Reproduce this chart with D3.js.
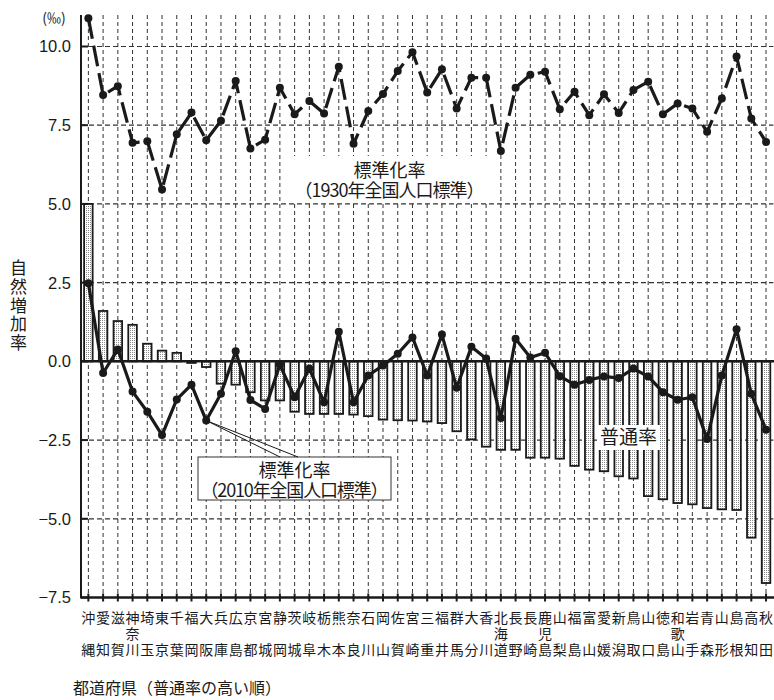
<!DOCTYPE html>
<html>
<head>
<meta charset="utf-8">
<script src="https://cdn.jsdelivr.net/npm/d3@7"></script>
<style>
  body { margin: 0; background: #fff; }
  svg { display: block; }
  .jp { font-family: 'Noto Sans CJK JP', 'Noto Sans', sans-serif; }
  .num { font-family: 'Liberation Sans', Arial, sans-serif; }
</style>
</head>
<body>
<div id="chart"></div>
<script>
// prefectures, sorted by crude rate (普通率)
const prefs = ['沖縄', '愛知', '滋賀', '神奈川', '埼玉', '東京', '千葉', '福岡', '大阪', '兵庫',
  '広島', '京都', '宮城', '静岡', '茨城', '岐阜', '栃木', '熊本', '奈良', '石川',
  '岡山', '佐賀', '宮崎', '三重', '福井', '群馬', '大分', '香川', '北海道', '長野',
  '長崎', '鹿児島', '山梨', '福島', '富山', '愛媛', '新潟', '鳥取', '山口', '徳島',
  '和歌山', '岩手', '青森', '山形', '島根', '高知', '秋田']

// 普通率 (‰)
const crudeRate = [5.0, 1.60, 1.28, 1.16, 0.56, 0.34, 0.27, -0.05, -0.18, -0.71,
  -0.74, -0.98, -1.24, -1.24, -1.60, -1.67, -1.67, -1.67, -1.69, -1.74,
  -1.85, -1.87, -1.88, -1.91, -1.96, -2.22, -2.48, -2.71, -2.81, -2.81,
  -3.06, -3.06, -3.09, -3.32, -3.44, -3.49, -3.65, -3.72, -4.28, -4.38,
  -4.50, -4.54, -4.66, -4.70, -4.72, -5.60, -7.04]

// 標準化率 (1930年全国人口標準)
const std1930 = [10.90, 8.46, 8.74, 6.94, 6.99, 5.46, 7.21, 7.90, 7.02, 7.64,
  8.90, 6.76, 7.04, 8.69, 7.85, 8.27, 7.87, 9.36, 6.91, 7.95,
  8.49, 9.22, 9.82, 8.54, 9.28, 8.03, 9.01, 9.01, 6.68, 8.69,
  9.10, 9.20, 8.01, 8.56, 7.82, 8.48, 7.89, 8.62, 8.88, 7.85,
  8.19, 8.03, 7.29, 8.35, 9.68, 7.71, 6.97]

// 標準化率 (2010年全国人口標準)
const std2010 = [2.48, -0.37, 0.38, -0.96, -1.60, -2.34, -1.21, -0.74, -1.88, -1.03,
  0.32, -1.23, -1.51, -0.11, -1.14, -0.23, -1.30, 0.94, -1.30, -0.45,
  -0.13, 0.24, 0.76, -0.45, 0.85, -0.84, 0.46, 0.09, -1.80, 0.72,
  0.12, 0.27, -0.47, -0.74, -0.59, -0.48, -0.53, -0.23, -0.48, -0.98,
  -1.22, -1.14, -2.47, -0.45, 1.02, -1.03, -2.17]

const yTicks = [-7.5, -5.0, -2.5, 0.0, 2.5, 5.0, 7.5, 10.0]
const yDomain = [-7.5, 11.0]

const width = 774
const height = 700
const plot = { left: 81, right: 773.4, top: 15, bottom: 597.5 }
const ink = '#1a1a1a'

let svg = d3.select('#chart').append('svg')
  .attr('width', width)
  .attr('height', height)

// stipple fill for the bars
let defs = svg.append('defs')
let pat = defs.append('pattern')
  .attr('id', 'dots')
  .attr('width', 2)
  .attr('height', 2)
  .attr('patternUnits', 'userSpaceOnUse')
pat.append('rect').attr('width', 2).attr('height', 2).attr('fill', '#fff')
pat.append('rect').attr('width', 1).attr('height', 1).attr('fill', '#8a8a8a')

let x = d3.scaleBand()
  .domain(d3.range(prefs.length))
  .range([plot.left, plot.right])
  .paddingInner(0.42)
  .paddingOuter(0.21)

let y = d3.scaleLinear()
  .domain(yDomain)
  .range([plot.bottom, plot.top])

let cx = i => x(i) + x.bandwidth() / 2

// GRID
let grid = svg.append('g').attr('class', 'grid')
grid.selectAll('.vgrid')
  .data(d3.range(prefs.length))
  .enter().append('line')
  .attr('x1', d => cx(d))
  .attr('x2', d => cx(d))
  .attr('y1', plot.top)
  .attr('y2', plot.bottom)
  .style('stroke', '#333')
  .style('stroke-width', 1)
  .style('stroke-dasharray', '4,3')

grid.selectAll('.hgrid')
  .data(yTicks.filter(d => d !== 0 && d !== -7.5))
  .enter().append('line')
  .attr('x1', plot.left)
  .attr('x2', plot.right)
  .attr('y1', d => y(d))
  .attr('y2', d => y(d))
  .style('stroke', '#333')
  .style('stroke-width', 1.2)
  .style('stroke-dasharray', '5,3')

// BARS (普通率)
svg.append('g').selectAll('rect')
  .data(crudeRate)
  .enter().append('rect')
  .attr('x', (d, i) => x(i))
  .attr('width', x.bandwidth())
  .attr('y', d => y(Math.max(0, d)))
  .attr('height', d => Math.abs(y(d) - y(0)))
  .attr('fill', 'url(#dots)')
  .attr('stroke', ink)
  .attr('stroke-width', 1.8)

// zero line
svg.append('line')
  .attr('x1', plot.left)
  .attr('x2', width)
  .attr('y1', y(0))
  .attr('y2', y(0))
  .style('stroke', ink)
  .style('stroke-width', 2.5)

// AXES
let axisY = svg.append('g')
axisY.append('line')
  .attr('x1', plot.left).attr('x2', plot.left)
  .attr('y1', plot.top).attr('y2', plot.bottom)
  .style('stroke', ink).style('stroke-width', 2)
axisY.selectAll('.ytick')
  .data(yTicks)
  .enter().append('line')
  .attr('x1', plot.left - 1)
  .attr('x2', plot.left + 7)
  .attr('y1', d => y(d))
  .attr('y2', d => y(d))
  .style('stroke', ink).style('stroke-width', 2)
axisY.selectAll('.ylabel')
  .data(yTicks)
  .enter().append('text')
  .attr('class', 'num')
  .attr('x', 71)
  .attr('y', d => y(d))
  .attr('dy', '0.36em')
  .attr('text-anchor', 'end')
  .style('font-size', '16.5px')
  .attr('fill', ink)
  .text(d => d3.format('.1f')(d))

svg.append('text')
  .attr('class', 'jp')
  .attr('x', 54)
  .attr('y', 17.5)
  .attr('dy', '0.36em')
  .attr('text-anchor', 'middle')
  .style('font-size', '14px')
  .attr('fill', ink)
  .text('(‰)')

// y title, one character per line
svg.append('g').selectAll('text')
  .data('自然増加率'.split(''))
  .enter().append('text')
  .attr('class', 'jp')
  .attr('x', 18.5)
  .attr('y', (d, i) => 268 + i * 18.7)
  .attr('dy', '0.36em')
  .attr('text-anchor', 'middle')
  .style('font-size', '17px')
  .attr('fill', ink)
  .text(d => d)

let axisX = svg.append('g')
axisX.append('line')
  .attr('x1', plot.left).attr('x2', width)
  .attr('y1', plot.bottom).attr('y2', plot.bottom)
  .style('stroke', ink).style('stroke-width', 2.5)
axisX.selectAll('.xtick')
  .data(d3.range(prefs.length))
  .enter().append('line')
  .attr('x1', d => cx(d)).attr('x2', d => cx(d))
  .attr('y1', plot.bottom - 4).attr('y2', plot.bottom + 4)
  .style('stroke', ink).style('stroke-width', 2)

// category labels: first char / middle char / last char in three rows
let rowY = [618, 634, 650]
let labelChars = []
prefs.forEach((p, i) => {
  let c = p.split('')
  labelChars.push({ i: i, row: 0, ch: c[0] })
  if (c.length === 3) labelChars.push({ i: i, row: 1, ch: c[1] })
  labelChars.push({ i: i, row: 2, ch: c[c.length - 1] })
})
axisX.selectAll('.xlabel')
  .data(labelChars)
  .enter().append('text')
  .attr('class', 'jp')
  .attr('x', d => cx(d.i))
  .attr('y', d => rowY[d.row])
  .attr('dy', '0.36em')
  .attr('text-anchor', 'middle')
  .style('font-size', '14px')
  .attr('fill', ink)
  .text(d => d.ch)

svg.append('text')
  .attr('class', 'jp')
  .attr('x', 73)
  .attr('y', 688)
  .attr('dy', '0.36em')
  .style('font-size', '16px')
  .attr('fill', ink)
  .text('都道府県（普通率の高い順）')

// label boxes that mask the grid
svg.append('rect')
  .attr('x', 293).attr('y', 156)
  .attr('width', 194).attr('height', 46)
  .attr('fill', '#fff')
svg.append('rect')
  .attr('x', 597).attr('y', 425)
  .attr('width', 63).attr('height', 25)
  .attr('fill', '#fff')

// LINES
let line = d3.line()
  .x((d, i) => cx(i))
  .y(d => y(d))

svg.append('path')
  .datum(std1930)
  .attr('d', line)
  .attr('fill', 'none')
  .attr('stroke', ink)
  .attr('stroke-width', 3.2)
  .attr('stroke-dasharray', '21,7')
  .attr('stroke-linejoin', 'round')

svg.append('path')
  .datum(std2010)
  .attr('d', line)
  .attr('fill', 'none')
  .attr('stroke', ink)
  .attr('stroke-width', 3.2)
  .attr('stroke-linejoin', 'round')

svg.append('g').selectAll('circle')
  .data(std1930)
  .enter().append('circle')
  .attr('cx', (d, i) => cx(i))
  .attr('cy', d => y(d))
  .attr('r', 4)
  .attr('fill', ink)

svg.append('g').selectAll('circle')
  .data(std2010)
  .enter().append('circle')
  .attr('cx', (d, i) => cx(i))
  .attr('cy', d => y(d))
  .attr('r', 4)
  .attr('fill', ink)

// ANNOTATIONS
let note = (g, cxText, yTop, year, len) => {
  g.append('text')
    .attr('class', 'jp')
    .attr('x', cxText).attr('y', yTop)
    .attr('dy', '0.36em')
    .attr('text-anchor', 'middle')
    .style('font-size', '18px')
    .attr('fill', ink)
    .text('標準化率')
  g.append('text')
    .attr('class', 'jp')
    .attr('x', cxText).attr('y', yTop + 19.5)
    .attr('dy', '0.36em')
    .attr('text-anchor', 'middle')
    .attr('textLength', len)
    .attr('lengthAdjust', 'spacing')
    .style('font-size', '18px')
    .attr('fill', ink)
    .text('（' + year + '年全国人口標準）')
}
note(svg.append('g'), 389.5, 171, 1930, 190)

// 2010 callout with border and leader lines to Osaka's point
let osaka = prefs.indexOf('大阪')
let call = svg.append('g')
call.append('rect')
  .attr('x', 198).attr('y', 457)
  .attr('width', 193).attr('height', 43)
  .attr('fill', '#fff')
  .attr('stroke', '#333')
  .attr('stroke-width', 1)
;[280, 298].forEach(ex => {
  call.append('line')
    .attr('x1', cx(osaka)).attr('y1', y(std2010[osaka]))
    .attr('x2', ex).attr('y2', 457)
    .style('stroke', ink)
    .style('stroke-width', 1)
})
note(call, 294.5, 471, 2010, 188)

svg.append('text')
  .attr('class', 'jp')
  .attr('x', 628.5)
  .attr('y', 437.5)
  .attr('dy', '0.36em')
  .attr('text-anchor', 'middle')
  .style('font-size', '19px')
  .attr('fill', ink)
  .text('普通率')
</script>
</body>
</html>
